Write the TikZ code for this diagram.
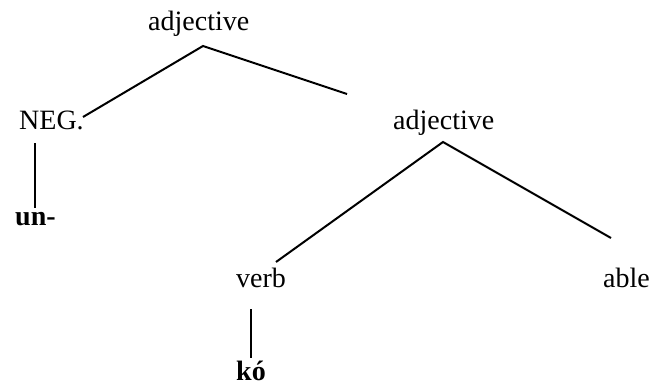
\documentclass[tikz,border=0pt]{standalone}
\usepackage{fontspec}
\setmainfont{Liberation Serif}
\begin{document}
\begin{tikzpicture}[x=1pt,y=-1pt,
  lbl/.style={anchor=base west,inner sep=0pt,font=\fontsize{28}{33}\selectfont},
  blbl/.style={lbl,font=\fontsize{28}{33}\selectfont\bfseries},
  edge/.style={line width=2pt}]
\useasboundingbox (0,0) rectangle (650,385);
\node[lbl] (adjA) at (148,31) {adjective};
\node[lbl] (neg) at (19,129) {NEG.};
\node[blbl] (un) at (15,225) {un-};
\node[lbl] (adjB) at (393,129) {adjective};
\node[lbl] (verb) at (236,287) {verb};
\node[lbl] (able) at (603,287) {able};
\node[blbl] (ko) at (236,380) {kó};
\coordinate (aTop) at (203,46);
\coordinate (aL) at (83,117);
\coordinate (aR) at (347,94);
\coordinate (negT) at (35,143);
\coordinate (negB) at (35,208);
\coordinate (bTop) at (443,142);
\coordinate (bL) at (276,262);
\coordinate (bR) at (611,238);
\coordinate (vT) at (251,309);
\coordinate (vB) at (251,358);
\draw[edge] (aL) -- (aTop) -- (aR);
\draw[edge] (negT) -- (negB);
\draw[edge] (bL) -- (bTop) -- (bR);
\draw[edge] (vT) -- (vB);
\end{tikzpicture}
\end{document}
